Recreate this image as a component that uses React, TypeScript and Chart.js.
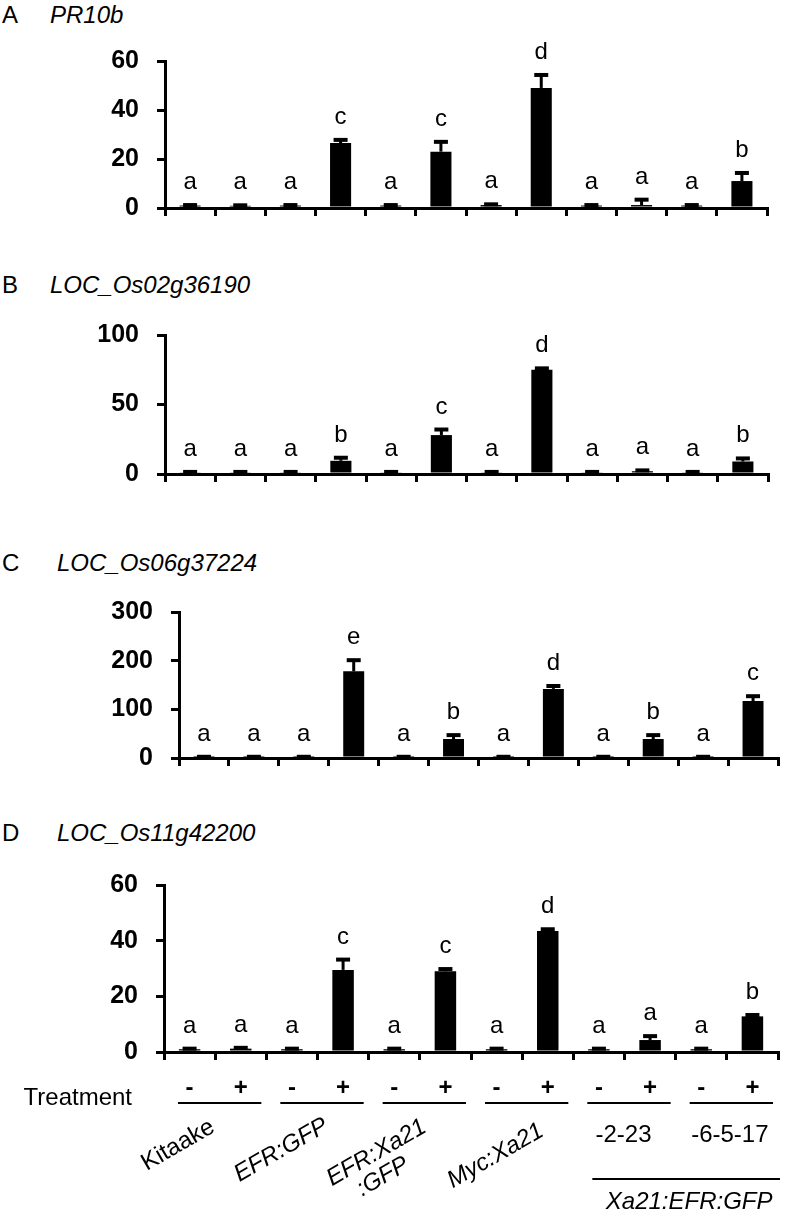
import React, { useEffect, useRef } from "react";
import { Chart, registerables } from "chart.js";

Chart.register(...registerables);

// ---------------- data ----------------
const categories = [
  "Kitaake -", "Kitaake +", "EFR:GFP -", "EFR:GFP +", "EFR:Xa21:GFP -", "EFR:Xa21:GFP +",
  "Myc:Xa21 -", "Myc:Xa21 +", "-2-23 -", "-2-23 +", "-6-5-17 -", "-6-5-17 +",
];
const treatments = ["-", "+", "-", "+", "-", "+", "-", "+", "-", "+", "-", "+"];
const groupLabels = ["Kitaake", "EFR:GFP", "EFR:Xa21\n:GFP", "Myc:Xa21", "-2-23", "-6-5-17"];
const transgeneLabel = "Xa21:EFR:GFP";
const treatmentLabel = "Treatment";

const pr10bValues = [1.0, 0.9, 1.0, 26.5, 1.0, 23.0, 1.2, 49.0, 1.0, 1.2, 1.0, 11.0];
const pr10bErrors = [0.2, 0.2, 0.2, 1.3, 0.2, 4.0, 0.3, 5.3, 0.2, 2.2, 0.2, 3.3];
const pr10bLetters = ["a", "a", "a", "c", "a", "c", "a", "d", "a", "a", "a", "b"];

const os02Values = [1.2, 1.2, 1.2, 9.5, 1.2, 28.0, 1.2, 75.0, 1.2, 2.0, 1.2, 9.0];
const os02Errors = [0.3, 0.3, 0.3, 2.2, 0.3, 4.0, 0.3, 1.0, 0.3, 0.6, 0.3, 2.2];
const os02Letters = ["a", "a", "a", "b", "a", "c", "a", "d", "a", "a", "a", "b"];

const os06Values = [2, 2, 2, 178, 2, 39, 2, 142, 2, 39, 2, 117];
const os06Errors = [0.5, 0.5, 0.5, 23, 0.5, 8, 0.5, 6, 0.5, 8, 0.5, 10];
const os06Letters = ["a", "a", "a", "e", "a", "b", "a", "d", "a", "b", "a", "c"];

const os11Values = [1.0, 1.2, 1.0, 29.5, 1.0, 29.0, 1.0, 43.5, 1.0, 4.3, 1.0, 12.8];
const os11Errors = [0.2, 0.3, 0.2, 3.7, 0.2, 0.8, 0.2, 0.6, 0.2, 1.4, 0.2, 0.5];
const os11Letters = ["a", "a", "a", "c", "a", "c", "a", "d", "a", "a", "a", "b"];

const yMaxA = 60, yStepA = 20;
const yMaxB = 100, yStepB = 50;
const yMaxC = 300, yStepC = 100;
const yMaxD = 60, yStepD = 20;

// ---------------- layout / style ----------------
const FONT = "'Liberation Sans', Arial, Helvetica, sans-serif";
const PAGE_W = 785;
const PAGE_H = 1211;

type Panel = {
  letter: string;
  title: string;
  values: number[];
  errors: number[];
  letters: string[];
  yMax: number;
  yStep: number;
  axisLeft: number;
  axisRight: number;
  axisTop: number;
  axisBottom: number;
  titleY: number;
  titleX: number;
  withFooter: boolean;
};

const panels: Panel[] = [
  { letter: "A", title: "PR10b", values: pr10bValues, errors: pr10bErrors, letters: pr10bLetters, yMax: yMaxA, yStep: yStepA,
    axisLeft: 165, axisRight: 767, axisTop: 48, axisBottom: 225, titleY: 15, titleX: 50, withFooter: false },
  { letter: "B", title: "LOC_Os02g36190", values: os02Values, errors: os02Errors, letters: os02Letters, yMax: yMaxB, yStep: yStepB,
    axisLeft: 165, axisRight: 768, axisTop: 322, axisBottom: 491, titleY: 285, titleX: 50, withFooter: false },
  { letter: "C", title: "LOC_Os06g37224", values: os06Values, errors: os06Errors, letters: os06Letters, yMax: yMaxC, yStep: yStepC,
    axisLeft: 179, axisRight: 778, axisTop: 599, axisBottom: 775, titleY: 563, titleX: 57, withFooter: false },
  { letter: "D", title: "LOC_Os11g42200", values: os11Values, errors: os11Errors, letters: os11Letters, yMax: yMaxD, yStep: yStepD,
    axisLeft: 164, axisRight: 778, axisTop: 872, axisBottom: 1052, titleY: 833, titleX: 57, withFooter: true },
];

const PAD_TOP = 20;
const PAD_RIGHT = 4;
const X_AXIS_H = 16;

const groupLabelLayout = [
  { dx: 1, dy: 79, rotate: true, italic: false },
  { dx: 12, dy: 78, rotate: true, italic: true },
  { dx: 8, dy: 79, rotate: true, italic: true, dx2: -34, dy2: 24 },
  { dx: 23, dy: 83, rotate: true, italic: true },
  { dx: -1, dy: 83, rotate: false, italic: false },
  { dx: 3, dy: 83, rotate: false, italic: false },
];

function makeErrorPlugin(p: Panel) {
  return {
    id: "errorsAndLetters",
    afterDatasetsDraw(chart: any) {
      const ctx = chart.ctx;
      const yScale = chart.scales.y;
      const meta = chart.getDatasetMeta(0);
      ctx.save();
      ctx.strokeStyle = "#000";
      ctx.fillStyle = "#000";
      meta.data.forEach((bar: any, i: number) => {
        const x = bar.x;
        const yTop = bar.y;
        const yErr = yScale.getPixelForValue(p.values[i] + p.errors[i]);
        ctx.lineWidth = 3;
        ctx.beginPath();
        ctx.moveTo(x, yTop);
        ctx.lineTo(x, yErr);
        ctx.stroke();
        ctx.lineWidth = 4;
        ctx.beginPath();
        ctx.moveTo(x - 7, yErr);
        ctx.lineTo(x + 7, yErr);
        ctx.stroke();
        ctx.font = `24px ${FONT}`;
        ctx.textAlign = "center";
        ctx.textBaseline = "alphabetic";
        ctx.fillText(p.letters[i], x, yErr - 16);
      });
      ctx.restore();
    },
  };
}

function makeFooterPlugin() {
  return {
    id: "footer",
    afterDraw(chart: any) {
      const ctx = chart.ctx;
      const xs = chart.scales.x;
      const base = chart.chartArea.bottom;
      const catW = xs.getPixelForValue(1) - xs.getPixelForValue(0);
      ctx.save();
      ctx.fillStyle = "#000";
      ctx.strokeStyle = "#000";

      ctx.font = `bold 24px ${FONT}`;
      ctx.textAlign = "center";
      ctx.textBaseline = "middle";
      treatments.forEach((t, i) => {
        ctx.fillText(t, xs.getPixelForValue(i), base + 36);
      });

      ctx.font = `24px ${FONT}`;
      ctx.textAlign = "right";
      ctx.textBaseline = "middle";
      ctx.fillText(treatmentLabel, 132, base + 46);

      groupLabels.forEach((label, g) => {
        const c0 = xs.getPixelForValue(2 * g);
        const c1 = xs.getPixelForValue(2 * g + 1);
        const left = c0 - catW / 2 + 14;
        const right = c1 + catW / 2 - 5;
        ctx.lineWidth = 2;
        ctx.beginPath();
        ctx.moveTo(left, base + 51);
        ctx.lineTo(right, base + 51);
        ctx.stroke();

        const lay = groupLabelLayout[g];
        const cx = (c0 + c1) / 2 + lay.dx;
        const cy = base + lay.dy;
        ctx.font = `${lay.italic ? "italic " : ""}24px ${FONT}`;
        if (lay.rotate) {
          const lines = label.split("\n");
          ctx.save();
          ctx.translate(cx, cy);
          ctx.rotate(-Math.PI / 6);
          ctx.textAlign = "right";
          ctx.textBaseline = "alphabetic";
          ctx.fillText(lines[0], 0, 0);
          if (lines[1]) {
            ctx.fillText(lines[1], (lay as any).dx2 || 0, (lay as any).dy2 || 24);
          }
          ctx.restore();
        } else {
          ctx.textAlign = "center";
          ctx.textBaseline = "middle";
          ctx.fillText(label, cx, cy);
        }
      });

      const g5left = xs.getPixelForValue(8) - catW / 2 + 19;
      const g6right = xs.getPixelForValue(11) + catW / 2 + 2;
      ctx.lineWidth = 2;
      ctx.beginPath();
      ctx.moveTo(g5left, base + 127);
      ctx.lineTo(g6right, base + 127);
      ctx.stroke();
      ctx.font = `italic 24px ${FONT}`;
      ctx.textAlign = "center";
      ctx.textBaseline = "middle";
      ctx.fillText(transgeneLabel, (g5left + g6right) / 2 + 3, base + 150);

      ctx.restore();
    },
  };
}

function PanelChart({ p }: { p: Panel }) {
  const ref = useRef<HTMLCanvasElement | null>(null);
  const top = p.axisTop - PAD_TOP;
  const xH = p.withFooter ? PAGE_H - p.axisBottom : X_AXIS_H;
  const height = p.axisBottom - top + xH;
  const width = p.axisRight + PAD_RIGHT;

  useEffect(() => {
    if (!ref.current) return;
    const plugins: any[] = [makeErrorPlugin(p)];
    if (p.withFooter) plugins.push(makeFooterPlugin());
    const chart = new Chart(ref.current, {
      type: "bar",
      data: {
        labels: categories,
        datasets: [
          {
            data: p.values,
            backgroundColor: "#000",
            borderWidth: 0,
            barPercentage: 0.42,
            categoryPercentage: 1,
          },
        ],
      },
      options: {
        responsive: false,
        maintainAspectRatio: false,
        animation: false,
        devicePixelRatio: 1,
        layout: { padding: { top: PAD_TOP, right: PAD_RIGHT, left: 0, bottom: 0 } },
        plugins: {
          legend: { display: false },
          tooltip: { enabled: false },
          title: { display: false },
        },
        scales: {
          x: {
            type: "category",
            offset: true,
            grid: {
              offset: true,
              drawOnChartArea: false,
              drawTicks: true,
              tickLength: 8,
              lineWidth: 3,
              color: "#000",
            },
            border: { display: true, color: "#000", width: 3 },
            ticks: { display: false },
            afterFit: (s: any) => {
              s.height = xH;
            },
          },
          y: {
            min: 0,
            max: p.yMax,
            ticks: {
              stepSize: p.yStep,
              color: "#000",
              padding: 18,
              font: { family: FONT, size: 25, weight: "bold" },
            },
            grid: {
              drawOnChartArea: false,
              drawTicks: true,
              tickLength: 8,
              lineWidth: 3,
              color: "#000",
            },
            border: { display: true, color: "#000", width: 3 },
            afterFit: (s: any) => {
              s.width = p.axisLeft;
            },
          },
        },
      } as any,
      plugins,
    });
    return () => chart.destroy();
  }, []);

  return (
    <canvas
      ref={ref}
      width={width}
      height={height}
      style={{ position: "absolute", left: 0, top, width, height }}
    />
  );
}

export default function App() {
  return (
    <div
      style={{
        position: "absolute",
        left: 0,
        top: 0,
        width: PAGE_W,
        height: PAGE_H,
        background: "#fff",
        overflow: "hidden",
        fontFamily: FONT,
        color: "#000",
      }}
    >
      {panels.map((p) => (
        <React.Fragment key={p.letter}>
          <div
            style={{
              position: "absolute",
              left: 2,
              top: p.titleY - 12,
              fontSize: 24,
              lineHeight: "24px",
              whiteSpace: "nowrap",
            }}
          >
            {p.letter}
          </div>
          <div
            style={{
              position: "absolute",
              left: p.titleX,
              top: p.titleY - 12,
              fontSize: 24,
              lineHeight: "24px",
              fontStyle: "italic",
              whiteSpace: "nowrap",
            }}
          >
            {p.title}
          </div>
          <PanelChart p={p} />
        </React.Fragment>
      ))}
    </div>
  );
}
